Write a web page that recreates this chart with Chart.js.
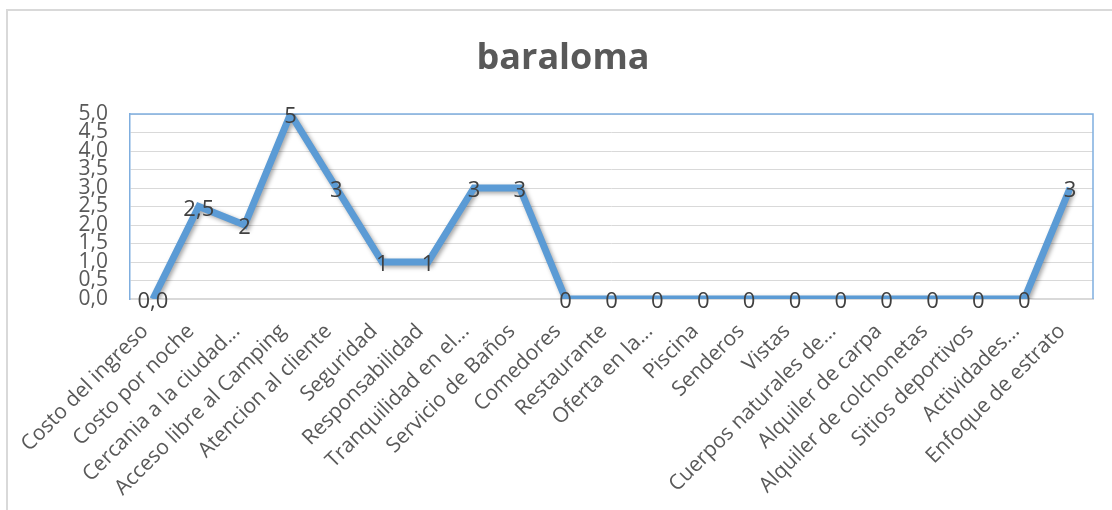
<!DOCTYPE html>
<html>
<head>
<meta charset="utf-8">
<script src="https://cdn.jsdelivr.net/npm/chart.js@4"></script>
<style>
  html, body { margin: 0; padding: 0; background: #fff; overflow: hidden; }
  #marco { position: absolute; left: 6px; top: 9px; width: 1120px; height: 520px;
           border-top: 2px solid #d9d9d9; border-left: 2px solid #d9d9d9; }
  #caja { position: absolute; left: 0; top: 0; width: 1112px; height: 510px; }
</style>
</head>
<body>
<div id="marco"></div>
<div id="caja"><canvas id="grafico"></canvas></div>
<script>
// Datos del gráfico
const categorias = ['Costo del ingreso', 'Costo por noche', 'Cercania a la ciudad...', 'Acceso libre al Camping',
  'Atencion al cliente', 'Seguridad', 'Responsabilidad', 'Tranquilidad en el...', 'Servicio de Baños',
  'Comedores', 'Restaurante', 'Oferta en la...', 'Piscina', 'Senderos', 'Vistas', 'Cuerpos naturales de...',
  'Alquiler de carpa', 'Alquiler de colchonetas', 'Sitios deportivos', 'Actividades...', 'Enfoque de estrato'];
const valores = [0, 2.5, 2, 5, 3, 1, 1, 3, 3, 0, 0, 0, 0, 0, 0, 0, 0, 0, 0, 0, 3];
const etiquetas = ['0,0', '2,5', '2', '5', '3', '1', '1', '3', '3', '0', '0', '0', '0', '0', '0', '0', '0', '0', '0', '0', '3'];
const titulo = 'baraloma';

const gris = '#595959';
const azul = '#5B9BD5';

// etiquetas de datos + sombra + borde del área
const extras = {
  id: 'extras',
  beforeDatasetDraw(chart) {
    const c = chart.ctx;
    c.save();
    c.shadowColor = 'rgba(0,0,0,0.35)';
    c.shadowBlur = 4;
    c.shadowOffsetX = 2;
    c.shadowOffsetY = 2;
  },
  afterDatasetDraw(chart) {
    chart.ctx.restore();
  },
  beforeDatasetsDraw(chart) {
    const c = chart.ctx, a = chart.chartArea;
    c.save();
    c.strokeStyle = '#7FAEDF';
    c.lineWidth = 1.5;
    c.beginPath();
    c.moveTo(a.left, a.top);
    c.lineTo(a.right, a.top);
    c.lineTo(a.right, a.bottom);
    c.stroke();
    c.restore();
  },
  afterDraw(chart) {
    const c = chart.ctx;
    c.save();
    c.fillStyle = '#404040';
    c.font = '22px "Open Sans"';
    c.textAlign = 'center';
    c.textBaseline = 'middle';
    chart.getDatasetMeta(0).data.forEach((p, i) => {
      c.fillText(etiquetas[i], p.x, p.y + 3);
    });
    // título
    c.fillStyle = gris;
    c.font = 'bold 36px "Open Sans"';
    c.fillText(titulo, 563, 59);
    c.restore();
  }
};

const ctx = document.getElementById('grafico').getContext('2d');
const grafico = new Chart(ctx, {
  type: 'line',
  data: {
    labels: categorias,
    datasets: [{
      data: valores,
      borderColor: azul,
      borderWidth: 7,
      pointRadius: 0,
      tension: 0,
      fill: false
    }]
  },
  options: {
    responsive: true,
    maintainAspectRatio: false,
    animation: false,
    layout: { padding: { top: 114, right: 19, bottom: 0, left: 0 } },
    plugins: {
      legend: { display: false },
      title: { display: false },
      tooltip: { enabled: false }
    },
    scales: {
      x: {
        offset: true,
        grid: { display: false, drawTicks: false },
        border: { display: true, color: '#d9d9d9', width: 2 },
        ticks: {
          color: gris,
          font: { family: 'Open Sans', size: 21 },
          maxRotation: 45,
          minRotation: 45,
          autoSkip: false,
          padding: 20,
          labelOffset: -8
        },
        afterFit(s) { s.height = 211; }
      },
      y: {
        min: 0,
        max: 5,
        grid: { color: '#d9d9d9', lineWidth: 1, drawTicks: false },
        border: { display: true, color: '#7FAEDF', width: 1.5 },
        ticks: {
          stepSize: 0.5,
          autoSkip: false,
          color: gris,
          font: { family: 'Open Sans', size: 21, lineHeight: 1 },
          padding: 22,
          callback: v => v.toFixed(1).replace('.', ',')
        },
        afterFit(s) { s.width = 130; }
      }
    }
  },
  plugins: [extras]
});
</script>
</body>
</html>
